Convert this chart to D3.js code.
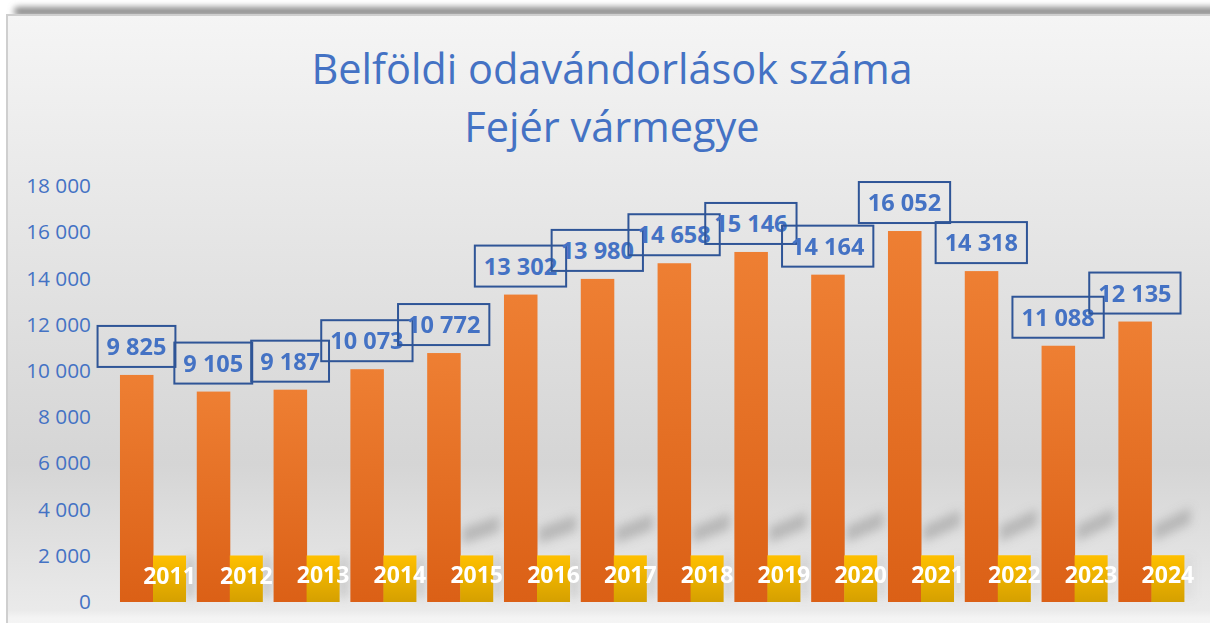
<!DOCTYPE html>
<html>
<head>
<meta charset="utf-8">
<title>Belföldi odavándorlások száma</title>
<script src="https://d3js.org/d3.v7.min.js"></script>
<style>
  body { margin: 0; background: #fff; }
  svg { display: block; font-family: "Open Sans", sans-serif; }
</style>
</head>
<body>
<div id="chart"></div>
<script>
// data
var years = ["2011","2012","2013","2014","2015","2016","2017","2018","2019","2020","2021","2022","2023","2024"];
var values = [9825, 9105, 9187, 10073, 10772, 13302, 13980, 14658, 15146, 14164, 16052, 14318, 11088, 12135];
// second series in the sheet: the year itself (drawn as the yellow bars)
var yearValues = [2011, 2012, 2013, 2014, 2015, 2016, 2017, 2018, 2019, 2020, 2021, 2022, 2023, 2024];
var yTicks = [0, 2000, 4000, 6000, 8000, 10000, 12000, 14000, 16000, 18000];
var titleLines = ["Belföldi odavándorlások száma", "Fejér vármegye"];

var w = 1210, h = 623;
var blue = "#4472C4", darkBlue = "#2F5597";

var hu = d3.formatLocale({decimal: ",", thousands: " ", grouping: [3], currency: ["", " Ft"]});
var fmt = hu.format(",d");

var svg = d3.select("#chart").append("svg")
  .attr("width", w)
  .attr("height", h);

var defs = svg.append("defs");

var bg = defs.append("linearGradient").attr("id", "bg")
  .attr("x1", 0).attr("y1", 0).attr("x2", 0).attr("y2", 1);
[[0, "#f5f5f5"], [0.27, "#e9e9e9"], [0.72, "#d5d5d5"], [0.955, "#eaeaea"], [0.968, "#f4f4f4"], [1, "#f5f5f5"]]
  .forEach(function(s) { bg.append("stop").attr("offset", s[0]).attr("stop-color", s[1]); });

var og = defs.append("linearGradient").attr("id", "orange")
  .attr("x1", 0).attr("y1", 0).attr("x2", 0).attr("y2", 1);
og.append("stop").attr("offset", 0).attr("stop-color", "#ee7f33");
og.append("stop").attr("offset", 1).attr("stop-color", "#db6016");

var yg = defs.append("linearGradient").attr("id", "yellow")
  .attr("x1", 0).attr("y1", 0).attr("x2", 0).attr("y2", 1);
yg.append("stop").attr("offset", 0).attr("stop-color", "#ffc000");
yg.append("stop").attr("offset", 1).attr("stop-color", "#d5a000");

defs.append("filter").attr("id", "blur").attr("x", "-50%").attr("y", "-50%").attr("width", "200%").attr("height", "200%")
  .append("feGaussianBlur").attr("stdDeviation", 5);
defs.append("filter").attr("id", "blur2").attr("x", "-10%").attr("y", "-200%").attr("width", "120%").attr("height", "500%")
  .append("feGaussianBlur").attr("stdDeviation", 3);

// card shadow + chart area
svg.append("rect")
  .attr("x", 14).attr("y", 7).attr("width", w + 20).attr("height", 9)
  .attr("rx", 4)
  .attr("fill", "#8a8a8a")
  .attr("filter", "url(#blur2)");

svg.append("rect")
  .attr("x", 7).attr("y", 15).attr("width", w).attr("height", h)
  .attr("fill", "url(#bg)")
  .attr("stroke", "#cfcfcf")
  .attr("stroke-width", 2);

// title
svg.append("g").selectAll("text")
  .data(titleLines)
  .enter().append("text")
  .attr("x", 612)
  .attr("y", function(d, i) { return 84 + i * 58; })
  .attr("text-anchor", "middle")
  .attr("fill", blue)
  .style("font-size", "41.5px")
  .text(function(d) { return d; });

// scales
var x = d3.scaleBand().domain(years).range([114.6, 1189.8]).paddingInner(0.14).paddingOuter(0.07);
var xs = d3.scaleBand().domain(["v", "y"]).range([0, x.bandwidth()]);
var y = d3.scaleLinear().domain([0, 18000]).range([602, 186]);

// y axis (labels only)
var yAxis = d3.axisLeft(y).tickValues(yTicks).tickFormat(fmt).tickSize(0).tickPadding(0);
var ya = svg.append("g").attr("transform", "translate(91,0)").call(yAxis);
ya.select(".domain").remove();
ya.selectAll("text")
  .attr("fill", blue)
  .style("font-family", "'Open Sans', sans-serif")
  .style("font-size", "20.8px");

// perspective shadows of the yellow bars
var sh = svg.append("g").attr("fill", "#8a8a8a").attr("filter", "url(#blur)");
years.forEach(function(yr, i) {
  var x0 = x(yr) + xs("y"), x1 = x0 + xs.bandwidth();
  var top = y(yearValues[i]);
  var t = i / (years.length - 1);
  // vertical smear on the right side
  sh.append("rect")
    .attr("x", x1).attr("y", top + 2)
    .attr("width", 8).attr("height", y(0) - top - 6)
    .attr("opacity", 0.3 * (1 - t) + 0.12);
  if (i >= 4) {
    var lift = 10 + 4 * t, slope = 10 + 8 * t;
    sh.append("polygon")
      .attr("points", [
        [x0 + 2, top - lift], [x1 + 6, top - lift - slope],
        [x1 + 6, top - lift - slope - 16], [x0 + 2, top - lift - 16]
      ].map(function(p) { return p.join(","); }).join(" "))
      .attr("opacity", 0.45);
  }
});

// bars
var groups = svg.append("g").selectAll("g")
  .data(years)
  .enter().append("g")
  .attr("transform", function(d) { return "translate(" + x(d) + ",0)"; });

groups.append("rect")
  .attr("x", xs("v"))
  .attr("y", function(d, i) { return y(values[i]); })
  .attr("width", xs.bandwidth() + 0.5)
  .attr("height", function(d, i) { return y(0) - y(values[i]); })
  .attr("fill", "url(#orange)");

groups.append("rect")
  .attr("x", xs("y"))
  .attr("y", function(d, i) { return y(yearValues[i]); })
  .attr("width", xs.bandwidth())
  .attr("height", function(d, i) { return y(0) - y(yearValues[i]); })
  .attr("fill", "url(#yellow)");

// year labels (data labels of the yellow series)
groups.append("text")
  .attr("x", xs("y") + xs.bandwidth() / 2)
  .attr("y", function(d, i) { return y(yearValues[i]) + 28; })
  .attr("text-anchor", "middle")
  .attr("fill", "#fff")
  .style("font-weight", "bold")
  .style("font-size", "23px")
  .text(function(d) { return d; });

// value labels in boxes
var lab = groups.append("g")
  .attr("transform", function(d, i) {
    return "translate(" + (xs("v") + xs.bandwidth() / 2) + "," + (y(values[i]) - 8 - 20.5) + ")";
  });

lab.append("text")
  .attr("text-anchor", "middle")
  .attr("y", 8.5)
  .attr("fill", blue)
  .style("font-weight", "bold")
  .style("font-size", "23.5px")
  .text(function(d, i) { return fmt(values[i]); });

lab.insert("rect", "text")
  .attr("x", function() { return -this.parentNode.querySelector("text").getComputedTextLength() / 2 - 9; })
  .attr("y", -20.5)
  .attr("width", function() { return this.parentNode.querySelector("text").getComputedTextLength() + 18; })
  .attr("height", 41)
  .attr("fill", "none")
  .attr("stroke", darkBlue)
  .attr("stroke-width", 2);
</script>
</body>
</html>
